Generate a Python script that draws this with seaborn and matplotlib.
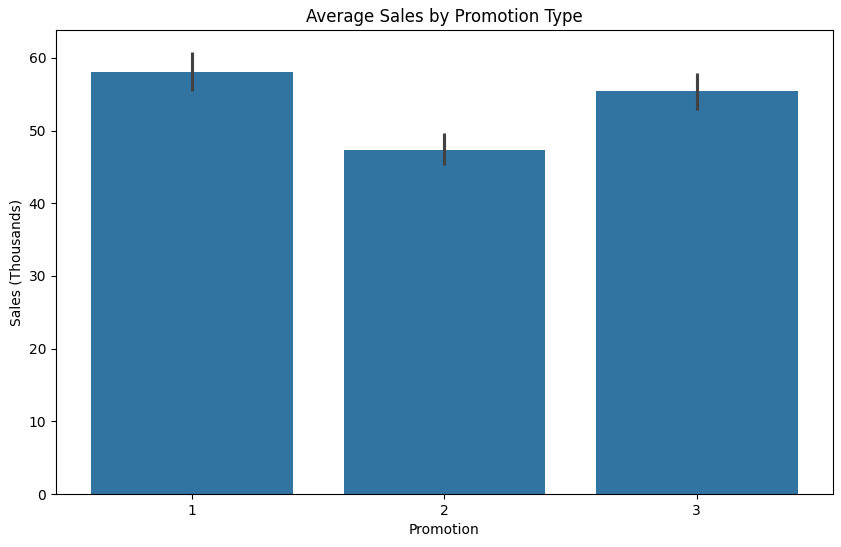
import numpy as np
import pandas as pd
import seaborn as sns
from matplotlib import pyplot as plt

## DADOS
promocoes = [1, 2, 3]
media_vendas = [58.1, 47.3, 55.4]
ic_baixo = [55.4, 45.2, 52.9]
ic_alto = [60.8, 49.6, 57.9]

df = pd.DataFrame({'Promotion': promocoes, 'Sales': media_vendas})

fig = plt.figure(figsize=(8.41, 5.47), dpi=100)
ax = fig.add_axes([56/841, 53/547, 777/841, 464/547])

sns.barplot(data=df, x='Promotion', y='Sales', color='#1f77b4', ax=ax)

# barras de erro (intervalo de confiança)
media = np.array(media_vendas)
yerr = [media - np.array(ic_baixo), np.array(ic_alto) - media]
ax.errorbar(x=range(len(promocoes)), y=media, yerr=yerr, fmt='none',
            ecolor='#424242', elinewidth=2.25, capsize=0)

ax.set_title('Average Sales by Promotion Type')
ax.set_xlabel('Promotion')
ax.set_ylabel('Sales (Thousands)')

plt.savefig('out.png', dpi=100)
